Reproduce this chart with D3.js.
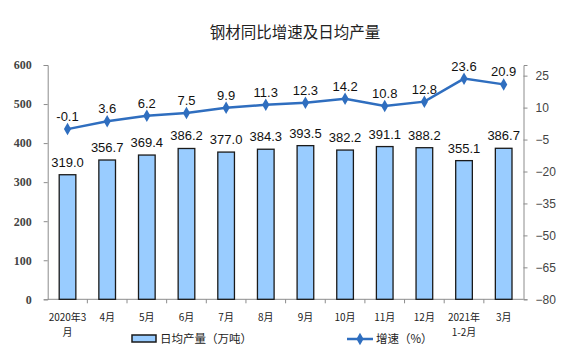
<!DOCTYPE html>
<html>
<head>
<meta charset="utf-8">
<script src="https://cdn.jsdelivr.net/npm/d3@7"></script>
<style>
  html, body { margin: 0; padding: 0; background: #fff; }
  svg { display: block; }
</style>
</head>
<body>
<svg id="chart" width="576" height="357"></svg>
<script>
const categories = ["2020年3月", "4月", "5月", "6月", "7月", "8月", "9月", "10月", "11月", "12月", "2021年1-2月", "3月"];
const categoryLines = [["2020年3", "月"], ["4月"], ["5月"], ["6月"], ["7月"], ["8月"], ["9月"], ["10月"], ["11月"], ["12月"], ["2021年", "1-2月"], ["3月"]];
const dailyOutput = [319.0, 356.7, 369.4, 386.2, 377.0, 384.3, 393.5, 382.2, 391.1, 388.2, 355.1, 386.7];
const growth = [-0.1, 3.6, 6.2, 7.5, 9.9, 11.3, 12.3, 14.2, 10.8, 12.8, 23.6, 20.9];
const leftTicks = [0, 100, 200, 300, 400, 500, 600];
const rightTicks = [-80, -65, -50, -35, -20, -5, 10, 25];
const title = "钢材同比增速及日均产量";
const legendBar = "日均产量（万吨）";
const legendLine = "增速（%）";

const svg = d3.select("#chart");
const L = 47.7, R = 523.5, T = 65, B = 299.3;

const x = d3.scaleBand().domain(categories).range([L, R]).paddingInner(0.58).paddingOuter(0.29);
const xb = d3.scaleBand().domain(categories).range([L, R]);
const yL = d3.scaleLinear().domain([0, 600]).range([B, T]);
const yR = d3.scaleLinear().domain([-80, 30]).range([B, T]);

const lineColor = "#2f6ebf";
const axisColor = "#8c8c8c";

// title
svg.append("text").attr("x", 295).attr("y", 38).attr("text-anchor", "middle")
  .attr("font-family", "'Noto Sans CJK SC', sans-serif").attr("font-size", 15.5)
  .attr("fill", "#222").text(title);

// left axis
const gL = svg.append("g").attr("transform", `translate(${L},0)`)
  .call(d3.axisLeft(yL).tickValues(leftTicks).tickSize(4).tickPadding(12).tickFormat(d3.format("d")));
gL.select(".domain").attr("stroke", axisColor);
gL.selectAll(".tick line").attr("stroke", axisColor);
gL.selectAll(".tick text").attr("font-family", "'Liberation Serif', 'DejaVu Serif', serif")
  .attr("font-size", 12).attr("font-weight", "bold").attr("fill", "#444");

// right axis
const gR = svg.append("g").attr("transform", `translate(${R},0)`)
  .call(d3.axisRight(yR).tickValues(rightTicks).tickSize(4).tickPadding(8).tickFormat(d => d < 0 ? "\u2212" + Math.abs(d) : d));
gR.select(".domain").attr("stroke", axisColor);
gR.selectAll(".tick line").attr("stroke", axisColor);
gR.selectAll(".tick text").attr("font-family", "'Liberation Sans', Arial, sans-serif")
  .attr("font-size", 12).attr("fill", "#444");

// bottom axis line + boundary ticks
svg.append("line").attr("x1", L).attr("x2", R).attr("y1", B).attr("y2", B).attr("stroke", axisColor);
svg.append("g").selectAll("line").data(categories.slice(1)).join("line")
  .attr("x1", d => xb(d)).attr("x2", d => xb(d)).attr("y1", B).attr("y2", B + 4)
  .attr("stroke", axisColor);

// category labels (one text element per line)
const labelRows = [];
categories.forEach((c, i) => categoryLines[i].forEach((t, j) => labelRows.push({ c, t, j })));
svg.append("g").selectAll("text").data(labelRows).join("text")
  .attr("x", d => xb(d.c) + xb.bandwidth() / 2).attr("y", d => 321 + d.j * 14.5)
  .attr("text-anchor", "middle")
  .attr("font-family", "'Noto Sans CJK SC', sans-serif").attr("font-size", 10).attr("fill", "#222")
  .text(d => d.t);

// bars
svg.append("g").selectAll("rect").data(dailyOutput).join("rect")
  .attr("x", (d, i) => x(categories[i])).attr("width", x.bandwidth())
  .attr("y", d => yL(d)).attr("height", d => yL(0) - yL(d))
  .attr("fill", "#99ccff").attr("stroke", "#1a1a1a").attr("stroke-width", 1.3);

// bar labels
svg.append("g").selectAll("text").data(dailyOutput).join("text")
  .attr("x", (d, i) => xb(categories[i]) + xb.bandwidth() / 2).attr("y", d => yL(d) - 8)
  .attr("text-anchor", "middle").attr("font-family", "'Liberation Sans', Arial, sans-serif")
  .attr("font-size", 13).attr("fill", "#111").text(d => d.toFixed(1));

// line
const cx = i => xb(categories[i]) + xb.bandwidth() / 2;
svg.append("path").datum(growth)
  .attr("d", d3.line().x((d, i) => cx(i)).y(d => yR(d)))
  .attr("fill", "none").attr("stroke", lineColor).attr("stroke-width", 2.5);
const diamond = d3.symbol().type(d3.symbolDiamond).size(45);
svg.append("g").selectAll("path").data(growth).join("path")
  .attr("transform", (d, i) => `translate(${cx(i)},${yR(d)})`)
  .attr("d", diamond).attr("fill", lineColor);
svg.append("g").selectAll("text").data(growth).join("text")
  .attr("x", (d, i) => cx(i)).attr("y", d => yR(d) - 8)
  .attr("text-anchor", "middle").attr("font-family", "'Liberation Sans', Arial, sans-serif")
  .attr("font-size", 13).attr("fill", "#111").text(d => d.toFixed(1));

// legend
const lg = svg.append("g");
lg.append("rect").attr("x", 132).attr("y", 335).attr("width", 24).attr("height", 7)
  .attr("fill", "#99ccff").attr("stroke", "#1a1a1a").attr("stroke-width", 1.5);
lg.append("text").attr("x", 160).attr("y", 343).attr("font-family", "'Noto Sans CJK SC', sans-serif")
  .attr("font-size", 11.5).attr("fill", "#222").text(legendBar);
lg.append("line").attr("x1", 347).attr("x2", 373).attr("y1", 339).attr("y2", 339)
  .attr("stroke", lineColor).attr("stroke-width", 2.5);
lg.append("path").attr("transform", "translate(360,339)").attr("d", diamond).attr("fill", lineColor);
lg.append("text").attr("x", 376).attr("y", 343).attr("font-family", "'Noto Sans CJK SC', sans-serif")
  .attr("font-size", 11.5).attr("fill", "#222").text(legendLine);
</script>
</body>
</html>
